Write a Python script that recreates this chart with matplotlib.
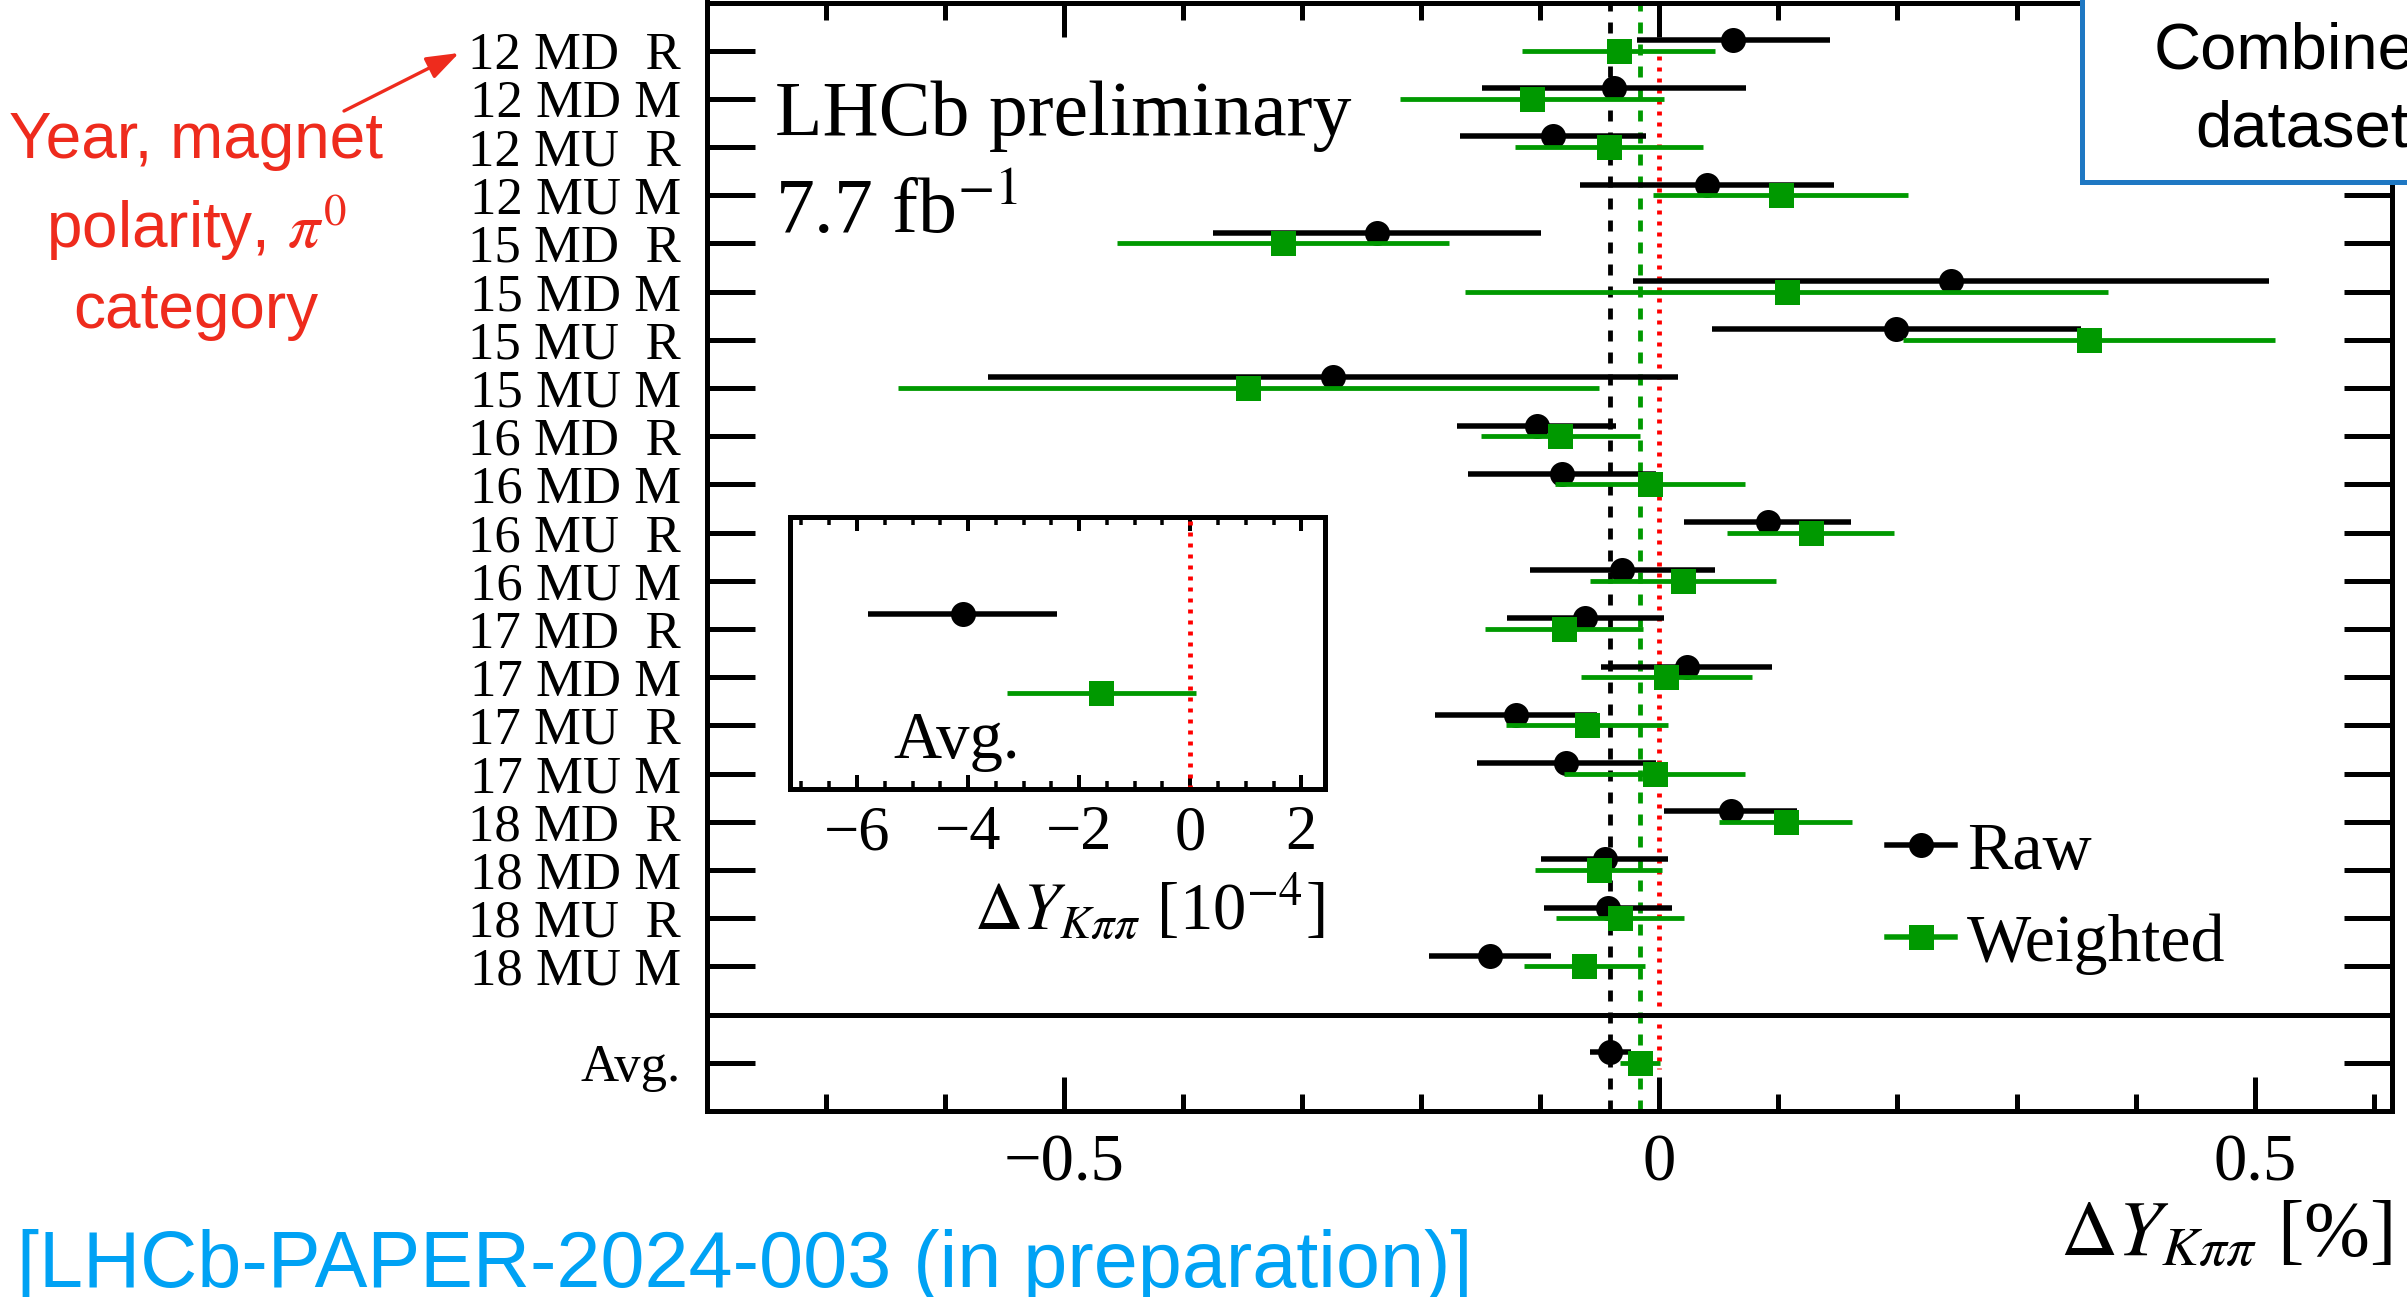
import numpy as np
import matplotlib
matplotlib.use("Agg")
import matplotlib.pyplot as plt
from matplotlib.lines import Line2D
from matplotlib.patches import Rectangle
from matplotlib.ticker import MultipleLocator, NullLocator

plt.rcParams["font.family"] = ["Liberation Serif", "DejaVu Serif"]
plt.rcParams["mathtext.fontset"] = "stix"
plt.rcParams["lines.scale_dashes"] = False

# ---- data -------------------------------------------------------------
categories = ["12 MD  R", "12 MD M", "12 MU  R", "12 MU M",
              "15 MD  R", "15 MD M", "15 MU  R", "15 MU M",
              "16 MD  R", "16 MD M", "16 MU  R", "16 MU M",
              "17 MD  R", "17 MD M", "17 MU  R", "17 MU M",
              "18 MD  R", "18 MD M", "18 MU  R", "18 MU M"]

# Delta Y_{K pi pi} in percent
raw_val = [0.062, -0.038, -0.089, 0.040, -0.237, 0.245, 0.199, -0.274,
           -0.103, -0.082, 0.091, -0.031, -0.062, 0.023, -0.120, -0.078,
           0.060, -0.046, -0.043, -0.142]
raw_err = [0.081, 0.111, 0.078, 0.107, 0.138, 0.267, 0.155, 0.290,
           0.067, 0.079, 0.070, 0.078, 0.066, 0.072, 0.068, 0.075,
           0.056, 0.053, 0.054, 0.051]
wgt_val = [-0.034, -0.107, -0.042, 0.102, -0.316, 0.107, 0.361, -0.345,
           -0.083, -0.008, 0.127, 0.020, -0.080, 0.006, -0.061, -0.004,
           0.106, -0.051, -0.033, -0.063]
wgt_err = [0.081, 0.111, 0.079, 0.107, 0.139, 0.270, 0.156, 0.294,
           0.067, 0.080, 0.070, 0.078, 0.066, 0.072, 0.068, 0.076,
           0.056, 0.053, 0.054, 0.051]

# averages in units of 1e-4
avg_raw, avg_raw_err = -4.1, 1.7
avg_wgt, avg_wgt_err = -1.6, 1.7

main_xticks = [-0.5, 0.0, 0.5]
main_xticklabels = ["\u22120.5", "0", "0.5"]
inset_xticks = [-6, -4, -2, 0, 2]
inset_xticklabels = ["\u22126", "\u22124", "\u22122", "0", "2"]
legend_labels = ["Raw", "Weighted"]

# ---- style ------------------------------------------------------------
W, H, DPI = 2407, 1297, 100
PX = 72.0 / DPI          # points per pixel
GREEN = "#009900"
RED_NOTE = "#EE2B1D"
SANS = ["Liberation Sans", "DejaVu Sans"]
MS = 25 * PX


def fx(px):
    return px / W


def fy(py):
    return 1.0 - py / H


fig = plt.figure(figsize=(W / DPI, H / DPI), dpi=DPI)

# ---- main panel -------------------------------------------------------
ax = fig.add_axes([fx(706.6), fy(1111), fx(2391.7 - 706.6), (1111 - 2.5) / H])
rows = np.arange(len(categories))
avg_row = len(categories) + 1
raw_shift = 0.22

eb_kw = dict(linestyle="none", ms=MS, mew=0, capsize=6.5 * PX,
             capthick=4.5 * PX)
ax.errorbar(raw_val, rows - raw_shift, xerr=raw_err, fmt="o", color="black",
            elinewidth=5.5 * PX, zorder=4, **eb_kw)
ax.errorbar(wgt_val, rows, xerr=wgt_err, fmt="s", color=GREEN,
            elinewidth=4.8 * PX, zorder=5, **eb_kw)
ax.errorbar([avg_raw * 1e-2], [avg_row - raw_shift], xerr=[avg_raw_err * 1e-2],
            fmt="o", color="black", elinewidth=5.5 * PX, zorder=4, **eb_kw)
ax.errorbar([avg_wgt * 1e-2], [avg_row], xerr=[avg_wgt_err * 1e-2],
            fmt="s", color=GREEN, elinewidth=4.8 * PX, zorder=5, **eb_kw)

ax.axvline(avg_raw * 1e-2, color="black", lw=4.8 * PX,
           dashes=(11 * PX, 11 * PX), zorder=2)
ax.axvline(avg_wgt * 1e-2, color=GREEN, lw=4.8 * PX,
           dashes=(11 * PX, 11 * PX), zorder=2)
ax.vlines(0.0, 0.12, 21.12, colors="red", lw=4.8 * PX,
          linestyles=[(0, (4 * PX, 7 * PX))], zorder=2)
ax.axhline(len(categories), color="black", lw=5 * PX, zorder=3)

ax.set_xlim(-0.8, 0.615)
ax.set_ylim(22, -1)
ax.set_yticks(list(rows) + [avg_row], categories + ["Avg."])
ax.set_xticks(main_xticks, main_xticklabels)
ax.xaxis.set_minor_locator(MultipleLocator(0.1))
ax.yaxis.set_minor_locator(NullLocator())
ax.tick_params(axis="y", which="major", direction="in", length=48 * PX,
               width=5 * PX, left=True, right=True, labelsize=38, pad=18.5)
ax.tick_params(axis="x", which="major", direction="in", length=34 * PX,
               width=5 * PX, top=True, bottom=True, labelsize=48, pad=16)
ax.tick_params(axis="x", which="minor", direction="in", length=17 * PX,
               width=5 * PX, top=True, bottom=True)
for s in ax.spines.values():
    s.set_linewidth(5 * PX)
ax.set_xlabel(r"$\Delta Y_{K\pi\pi}$ [%]", fontsize=57, loc="right",
              labelpad=5)

handles = [Line2D([], [], color="black", marker="o", ms=MS, mew=0,
                  lw=5.5 * PX),
           Line2D([], [], color=GREEN, marker="s", ms=MS, mew=0,
                  lw=5.5 * PX)]
ax.legend(handles, legend_labels, loc="upper left",
          bbox_to_anchor=(fx(1886.7), fy(821)), bbox_transform=fig.transFigure,
          frameon=False, fontsize=49, handlelength=1.0, handletextpad=0.18,
          labelspacing=0.45, borderpad=0, borderaxespad=0, numpoints=1)

fig.text(fx(775), fy(135), "LHCb preliminary", fontsize=56, va="baseline")
fig.text(fx(775), fy(233), r"7.7 fb$^{-1}$", fontsize=56, va="baseline")

# ---- inset with the averages -----------------------------------------
axin = fig.add_axes([fx(790.3), fy(788.7), fx(1324.7 - 790.3),
                     (788.7 - 517) / H])
inset_rows = [0.643, 0.352]
axin.errorbar([avg_raw], [inset_rows[0]], xerr=[avg_raw_err], fmt="o",
              color="black", elinewidth=5.5 * PX, zorder=4, **eb_kw)
axin.errorbar([avg_wgt], [inset_rows[1]], xerr=[avg_wgt_err], fmt="s",
              color=GREEN, elinewidth=4.8 * PX, zorder=5, **eb_kw)
axin.axvline(0.0, color="red", lw=4.8 * PX, dashes=(4 * PX, 7 * PX), zorder=2)
axin.set_xlim(-7.2, 2.42)
axin.set_ylim(0, 1)
axin.set_yticks([])
axin.set_xticks(inset_xticks, inset_xticklabels)
axin.xaxis.set_minor_locator(MultipleLocator(0.5))
axin.tick_params(axis="x", which="major", direction="in", length=14 * PX,
                 width=4 * PX, top=True, bottom=True, labelsize=45, pad=12)
axin.tick_params(axis="x", which="minor", direction="in", length=8 * PX,
                 width=3.5 * PX, top=True, bottom=True)
for s in axin.spines.values():
    s.set_linewidth(5 * PX)
axin.set_xlabel(r"$\Delta Y_{K\pi\pi}$ [10$^{-4}$]", fontsize=48, loc="right",
                labelpad=6)
fig.text(fx(893), fy(758), "Avg.", fontsize=48, va="baseline")

# ---- annotations ------------------------------------------------------
fig.text(fx(196), fy(158), "Year, magnet", ha="center", va="baseline",
         fontsize=46, color=RED_NOTE, family=SANS)
fig.text(fx(196), fy(248), r"polarity, $\pi^0$", ha="center", va="baseline",
         fontsize=46, color=RED_NOTE, family=SANS)
fig.text(fx(196), fy(328), "category", ha="center", va="baseline",
         fontsize=46, color=RED_NOTE, family=SANS)
ax.annotate("", xy=(459, H - 53), xycoords="figure pixels",
            xytext=(344, H - 111), textcoords="figure pixels",
            arrowprops=dict(arrowstyle="-|>,head_length=0.9,head_width=0.32",
                            color=RED_NOTE, lw=2.4, mutation_scale=22,
                            shrinkA=0, shrinkB=0),
            annotation_clip=False)

fig.text(fx(17), fy(1287), "[LHCb-PAPER-2024-003 (in preparation)]",
         fontsize=57, color="#00A2F4", family=SANS, va="baseline")

box = Rectangle((fx(2081.7), fy(181.7)), 0.5, 0.5, transform=fig.transFigure,
                facecolor="white", edgecolor="#1F78C3", lw=5 * PX, zorder=10)
fig.add_artist(box)
fig.text(fx(2302), fy(68.3), "Combined", ha="center", va="baseline",
         fontsize=47, family=SANS, zorder=11)
fig.text(fx(2302), fy(146.7), "dataset", ha="center", va="baseline",
         fontsize=47, family=SANS, zorder=11)

fig.savefig("out.png", dpi=DPI)
